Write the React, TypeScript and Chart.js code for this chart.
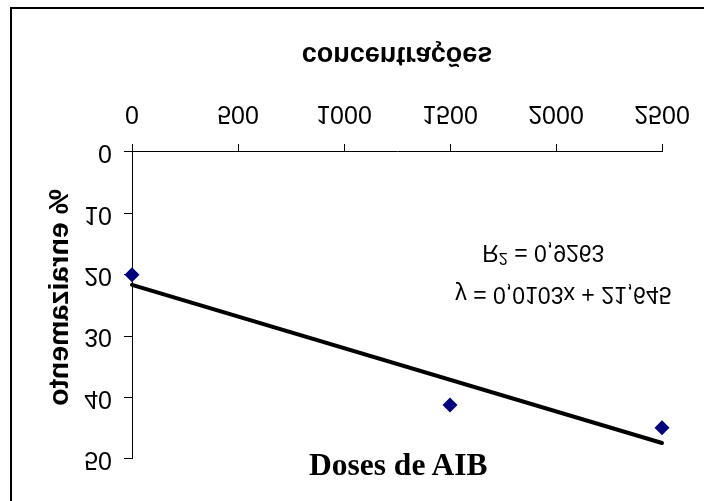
import { useEffect, useRef } from "react";
import { Chart, registerables } from "chart.js";

Chart.register(...registerables);

// Observed rooting percentage for each IBA dose
const doses = [0, 1500, 2500];
const rooting = [20, 41.2, 44.9];

// Axis ticks
const xTickValues = [0, 500, 1000, 1500, 2000, 2500];
const yTickValues = [0, 10, 20, 30, 40, 50];

// Linear trendline fitted to the observations
const trendSlope = 0.0103;
const trendIntercept = 21.645;
const trendR2 = 0.9263;

const xTitle = "concentrações";
const yTitle = "% enraizamento";
const caption = "Doses de AIB";

const SANS = '"Liberation Sans", Arial, sans-serif';

const comma = (v: number, d: number) => v.toFixed(d).replace(".", ",");
const equationText = `y = ${comma(trendSlope, 4)}x + ${comma(trendIntercept, 3)}`;
const r2Value = ` = ${comma(trendR2, 4)}`;

// Draws the trendline equation, R² and the vertical axis title
const annotations = {
  id: "annotations",
  afterDatasetsDraw(chart: any) {
    const { ctx, scales, chartArea } = chart;
    const x = scales.x;
    const y = scales.y;
    ctx.save();
    ctx.fillStyle = "#000";
    ctx.textBaseline = "middle";

    ctx.font = `23px ${SANS}`;
    ctx.textAlign = "center";
    ctx.fillText(equationText, x.getPixelForValue(2035), y.getPixelForValue(23.1));

    // "R²" with a raised, smaller 2
    const big = `23px ${SANS}`;
    const small = `16px ${SANS}`;
    ctx.font = big;
    const wR = ctx.measureText("R").width;
    const wRest = ctx.measureText(r2Value).width;
    ctx.font = small;
    const w2 = ctx.measureText("2").width;
    const total = wR + w2 + wRest;
    const cx = x.getPixelForValue(1940);
    const cy = y.getPixelForValue(16.2);
    let left = cx - total / 2;
    ctx.textAlign = "left";
    ctx.font = big;
    ctx.fillText("R", left, cy);
    left += wR;
    ctx.font = small;
    ctx.fillText("2", left, cy - 6);
    left += w2;
    ctx.font = big;
    ctx.fillText(r2Value, left, cy);

    // vertical axis title
    ctx.translate(60, (chartArea.top + chartArea.bottom) / 2 + 8);
    ctx.rotate(-Math.PI / 2);
    ctx.textAlign = "center";
    ctx.font = `bold 28.5px ${SANS}`;
    ctx.fillText(yTitle, 0, 0);
    ctx.restore();
  },
};

export default function App() {
  const canvasRef = useRef<HTMLCanvasElement | null>(null);

  useEffect(() => {
    const canvas = canvasRef.current;
    if (!canvas) return;
    const xMax = xTickValues[xTickValues.length - 1];
    const chart = new Chart(canvas, {
      type: "scatter",
      data: {
        datasets: [
          {
            label: "enraizamento",
            data: doses.map((d, i) => ({ x: d, y: rooting[i] })),
            pointStyle: "rectRot",
            pointRadius: 7.5,
            backgroundColor: "#000080",
            borderColor: "#000080",
            borderWidth: 0,
            order: 0,
          },
          {
            label: "tendência",
            data: [
              { x: 0, y: trendIntercept },
              { x: xMax, y: trendIntercept + trendSlope * xMax },
            ],
            showLine: true,
            borderColor: "#000",
            borderWidth: 4,
            borderCapStyle: "round",
            pointRadius: 0,
            order: 1,
          },
        ],
      },
      options: {
        animation: false,
        responsive: false,
        devicePixelRatio: 1,
        clip: false as any,
        layout: { padding: { top: 42, right: 42, left: 0, bottom: 0 } },
        plugins: {
          legend: { display: false },
          tooltip: { enabled: false },
        },
        scales: {
          x: {
            type: "linear",
            position: "bottom",
            min: 0,
            max: xMax,
            afterBuildTicks: (s: any) => {
              s.ticks = xTickValues.map((v) => ({ value: v }));
            },
            afterFit: (s: any) => {
              s.height = 152;
              s.paddingLeft = 0;
              s.paddingRight = 0;
            },
            ticks: {
              color: "#000",
              font: { family: SANS, size: 25 },
              padding: 16,
              maxRotation: 0,
              autoSkip: false,
              callback: (v: any) => String(v),
            },
            grid: {
              drawOnChartArea: false,
              drawTicks: true,
              tickLength: 8,
              color: "#000",
            },
            border: { display: true, color: "#000", width: 1 },
            title: {
              display: true,
              text: xTitle,
              color: "#000",
              font: { family: SANS, size: 27, weight: "bold" },
              padding: { top: 0, bottom: 38 },
            },
          },
          y: {
            type: "linear",
            min: 0,
            max: yTickValues[yTickValues.length - 1],
            afterBuildTicks: (s: any) => {
              s.ticks = yTickValues.map((v) => ({ value: v }));
            },
            afterFit: (s: any) => {
              s.width = 132;
            },
            ticks: {
              color: "#000",
              font: { family: SANS, size: 25 },
              padding: 12,
              autoSkip: false,
              callback: (v: any) => String(v),
            },
            grid: {
              drawOnChartArea: false,
              drawTicks: true,
              tickLength: 8,
              color: "#000",
            },
            border: { display: true, color: "#000", width: 1 },
            title: { display: false },
          },
        },
      },
      plugins: [annotations],
    });
    return () => chart.destroy();
  }, []);

  return (
    <div
      style={{
        position: "fixed",
        left: 0,
        top: 0,
        width: 704,
        height: 501,
        overflow: "hidden",
        background: "#fff",
      }}
    >
      <div
        style={{
          position: "absolute",
          left: 10,
          top: 7,
          width: 720,
          height: 520,
          border: "2px solid #000",
        }}
      />
      <canvas
        ref={canvasRef}
        width={704}
        height={501}
        style={{
          position: "absolute",
          left: 0,
          top: 0,
          width: 704,
          height: 501,
          transform: "scaleY(-1)",
        }}
      />
      <div
        style={{
          position: "absolute",
          left: 309,
          top: 449,
          fontFamily: '"Liberation Serif", "Times New Roman", serif',
          fontWeight: "bold",
          fontSize: 31.5,
          lineHeight: "31px",
          whiteSpace: "nowrap",
          color: "#000",
        }}
      >
        {caption}
      </div>
    </div>
  );
}
